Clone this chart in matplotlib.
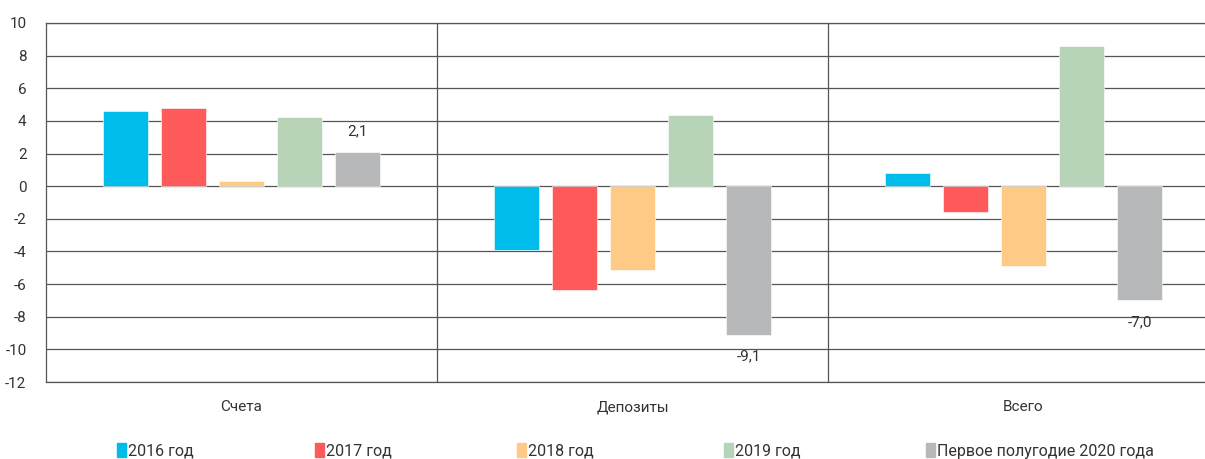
import numpy as np
from matplotlib import pyplot as plt
from matplotlib.patches import Patch

plt.rcParams['font.family'] = ['Roboto', 'DejaVu Sans']
plt.rcParams['axes.unicode_minus'] = False

# Данные
categories = ["Счета", "Депозиты", "Всего"]
series_names = ["2016 год", "2017 год", "2018 год", "2019 год", "Первое полугодие 2020 года"]
v2016 = [4.6, -3.9, 0.8]
v2017 = [4.8, -6.35, -1.6]
v2018 = [0.3, -5.15, -4.9]
v2019 = [4.25, 4.35, 8.6]
v2020 = [2.1, -9.1, -7.0]
labels_2020 = ["2,1", "-9,1", "-7,0"]

values = [v2016, v2017, v2018, v2019, v2020]
colors = ['#00BCEB', '#FF5A5A', '#FFCA85', '#B8D4B8', '#B7B8BA']
text_color = '#333333'
grid_color = '#555555'

fig = plt.figure(figsize=(12.05, 4.59), dpi=100)
ax = fig.add_axes([46 / 1205, 1 - 382 / 459, 1173 / 1205, (382 - 23) / 459])

x = np.arange(len(categories))
pitch = 58 / 391
width = 45 / 391
for i, vals in enumerate(values):
    ax.bar(x + (i - 2) * pitch, vals, width=width, color=colors[i], zorder=3,
           edgecolor='white', linewidth=0.4)

# Подписи для последнего ряда
for xi, v, lab in zip(x + 2 * pitch, v2020, labels_2020):
    off = 21 if v > 0 else -22
    ax.annotate(lab, (xi, v), xytext=(0, off), textcoords='offset pixels',
                ha='center', va='center', fontsize=11, color=text_color)

ax.set_xlim(-0.5, 2.5)
ax.set_ylim(-12, 10)
ax.set_yticks(range(-12, 11, 2))
ax.yaxis.grid(True, color=grid_color, linewidth=0.9, zorder=1)
ax.set_axisbelow(True)
for xs in [0.5, 1.5]:
    ax.axvline(xs, color=grid_color, linewidth=0.9, zorder=1)

ax.set_xticks(x)
ax.set_xticklabels(categories)
ax.tick_params(axis='x', length=0, pad=13, labelsize=11, labelcolor=text_color)
ax.tick_params(axis='y', length=0, pad=14, labelsize=11, labelcolor=text_color)

ax.spines['right'].set_visible(False)
for s in ['left', 'bottom', 'top']:
    ax.spines[s].set_color(grid_color)
    ax.spines[s].set_linewidth(0.9)

# Легенда — отдельно для каждого ряда
legend_x = [117, 315, 517, 724, 926]
for name, col, lx in zip(series_names, colors, legend_x):
    leg = fig.legend(handles=[Patch(color=col)], labels=[name], loc='center left',
                     bbox_to_anchor=(lx / 1205, 1 - 451 / 459), frameon=False,
                     handlelength=0.55, handleheight=1.0, handletextpad=0.12,
                     borderpad=0, borderaxespad=0, fontsize=11.5)
    for t in leg.get_texts():
        t.set_color(text_color)

plt.savefig('out.png', dpi=100)
